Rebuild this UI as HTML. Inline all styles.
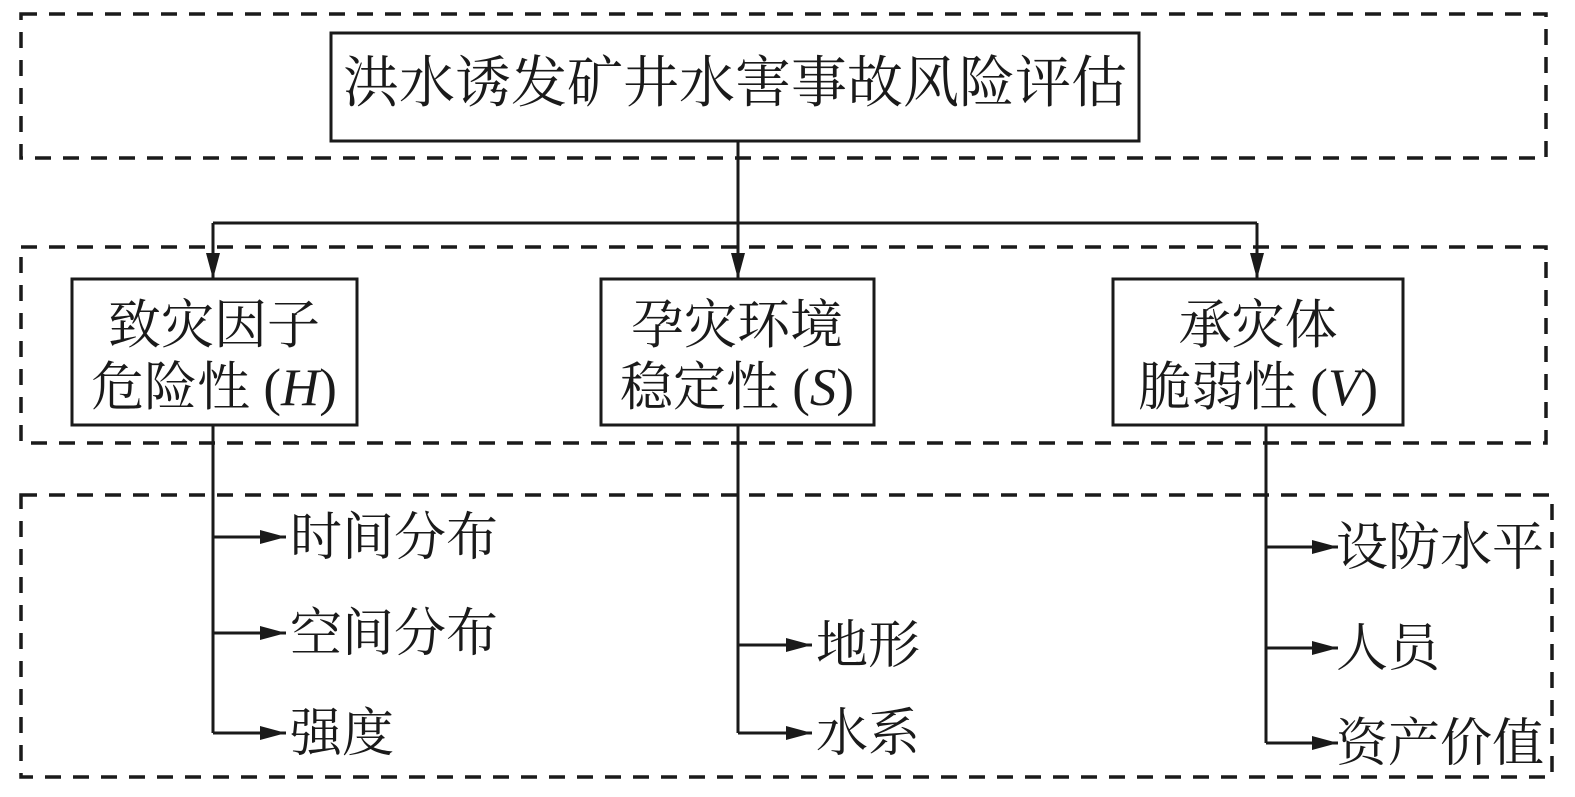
<!DOCTYPE html>
<html><head><meta charset="utf-8"><style>
html,body{margin:0;padding:0;background:#fff}
svg{display:block}
text{font-family:"Liberation Serif","Noto Serif CJK SC",serif;fill:#1a1a1a}
</style></head><body>
<svg width="1575" height="797" viewBox="0 0 1575 797">
<defs>
<marker id="b" viewBox="0 0 26 14" refX="26" refY="7" markerWidth="26" markerHeight="14" orient="auto" markerUnits="userSpaceOnUse"><path d="M0,0 L26,7 L0,14 z" fill="#1a1a1a"/></marker></defs>
<g fill="none" stroke="#1a1a1a" stroke-width="3.5" stroke-dasharray="16,12">
<rect x="21" y="14" width="1525" height="144"/>
<rect x="21" y="247" width="1525" height="196"/>
<rect x="21" y="495" width="1531" height="282"/>
</g>
<g fill="#fff" stroke="#1a1a1a" stroke-width="3">
<rect x="331" y="33" width="808" height="108"/>
<rect x="72" y="279" width="285" height="146"/>
<rect x="601" y="279" width="273" height="146"/>
<rect x="1113" y="279" width="290" height="146"/>
</g>
<g fill="none" stroke="#1a1a1a" stroke-width="3">
<line x1="738" y1="141" x2="738" y2="223"/>
<line x1="213" y1="223" x2="1257" y2="223"/>
<line x1="213" y1="223" x2="213" y2="279" marker-end="url(#b)"/>
<line x1="738" y1="223" x2="738" y2="279" marker-end="url(#b)"/>
<line x1="1257" y1="223" x2="1257" y2="279" marker-end="url(#b)"/>
<path d="M213 425 V733"/>
<line x1="213" y1="537" x2="286" y2="537" marker-end="url(#b)"/>
<line x1="213" y1="633" x2="286" y2="633" marker-end="url(#b)"/>
<line x1="213" y1="733" x2="286" y2="733" marker-end="url(#b)"/>
<path d="M738 425 V733"/>
<line x1="738" y1="645" x2="812" y2="645" marker-end="url(#b)"/>
<line x1="738" y1="733" x2="812" y2="733" marker-end="url(#b)"/>
<path d="M1266 425 V743"/>
<line x1="1266" y1="547" x2="1338" y2="547" marker-end="url(#b)"/>
<line x1="1266" y1="648" x2="1338" y2="648" marker-end="url(#b)"/>
<line x1="1266" y1="743" x2="1338" y2="743" marker-end="url(#b)"/>
</g>
<text x="735" y="102" font-size="56" text-anchor="middle">洪水诱发矿井水害事故风险评估</text>
<text x="214" y="343" font-size="53" text-anchor="middle">致灾因子</text>
<text x="214" y="405" font-size="53" text-anchor="middle">危险性 (<tspan font-style="italic">H</tspan>)</text>
<text x="737" y="343" font-size="53" text-anchor="middle">孕灾环境</text>
<text x="737" y="405" font-size="53" text-anchor="middle">稳定性 (<tspan font-style="italic">S</tspan>)</text>
<text x="1258" y="343" font-size="53" text-anchor="middle">承灾体</text>
<text x="1258" y="405" font-size="53" text-anchor="middle">脆弱性 (<tspan font-style="italic">V</tspan>)</text>
<g font-size="52">
<text x="290" y="555">时间分布</text>
<text x="290" y="651">空间分布</text>
<text x="290" y="751">强度</text>
<text x="816" y="663">地形</text>
<text x="816" y="751">水系</text>
<text x="1336" y="565">设防水平</text>
<text x="1336" y="666">人员</text>
<text x="1336" y="761">资产价值</text>
</g>
</svg>
</body></html>
